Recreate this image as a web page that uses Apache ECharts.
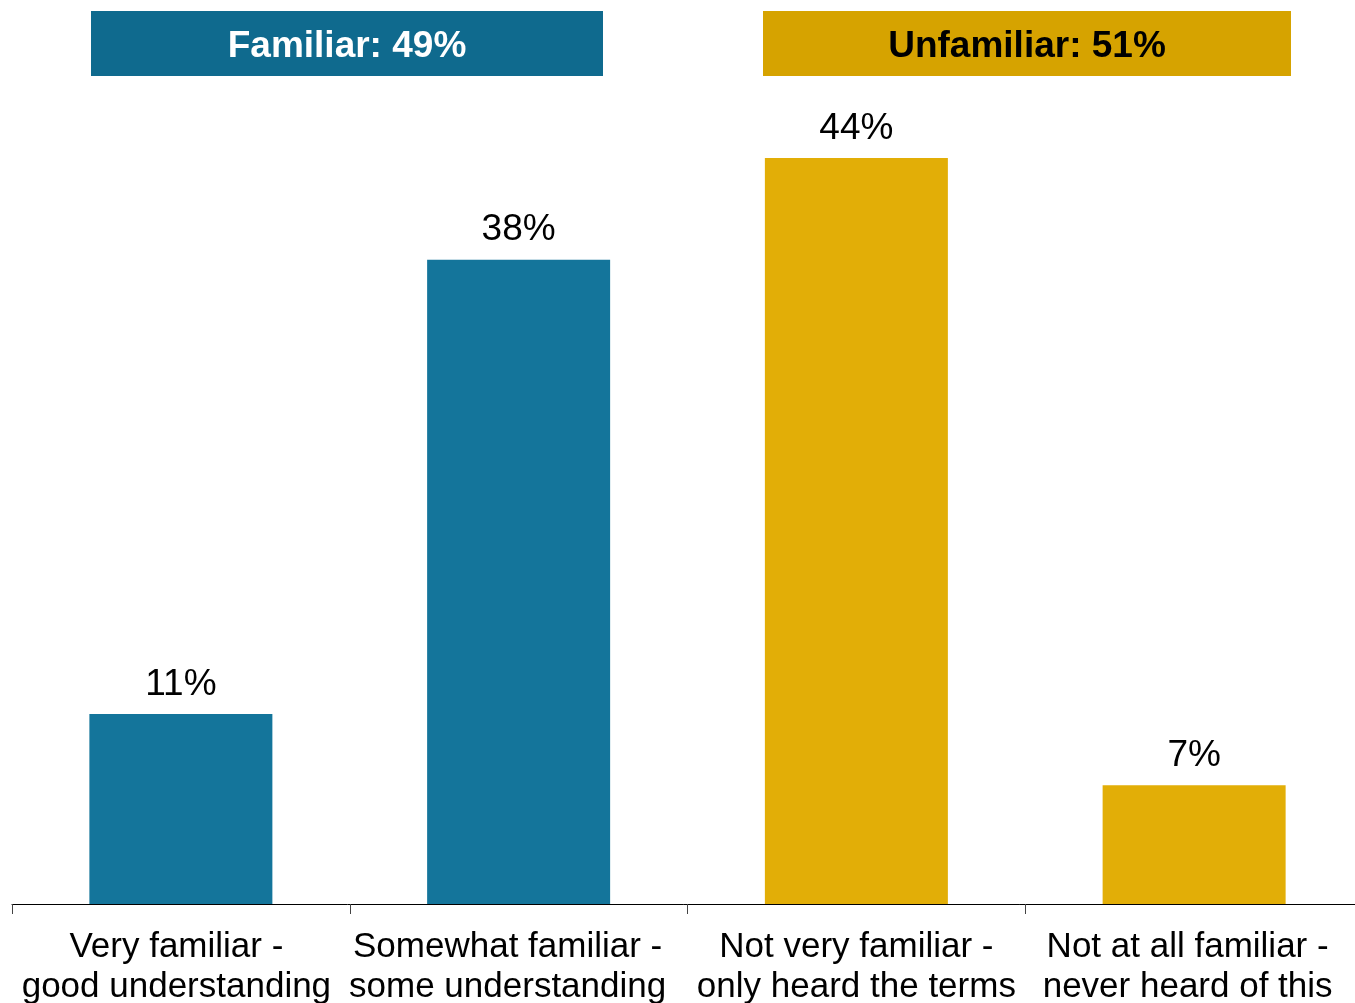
<!DOCTYPE html>
<html>
<head>
<meta charset="utf-8">
<script src="https://cdn.jsdelivr.net/npm/echarts@6/dist/echarts.min.js"></script>
<style>
html,body{margin:0;padding:0;background:#fff;overflow:hidden;}
#chart{width:1355px;height:1003px;}
</style>
</head>
<body>
<div id="chart"></div>
<script>
const categories = [
  "Very familiar -\ngood understanding",
  "Somewhat familiar -\nsome understanding",
  "Not very familiar -\nonly heard the terms",
  "Not at all familiar -\nnever heard of this"
];
const values = [11.2, 38, 44, 7];
const barColors = ["#14759b", "#14759b", "#e2ae07", "#e2ae07"];
const groupLabels = ["Familiar: 49%", "Unfamiliar: 51%"];
const labelPadRight = [9, 22, 0, 13];

const chart = echarts.init(document.getElementById('chart'), null, {renderer: 'canvas'});
const FONT = '"Liberation Sans", Arial, sans-serif';
chart.setOption({
  animation: false,
  backgroundColor: '#ffffff',
  grid: {left: 12, width: 1351, top: 158, height: 746, containLabel: false, outerBoundsMode: 'none'},
  xAxis: {
    type: 'category',
    data: categories.map((c, i) => ({value: c, textStyle: {padding: [0, labelPadRight[i], 0, 0]}})),
    axisLine: {show: true, lineStyle: {color: '#000', width: 1}},
    axisTick: {show: true, length: 10, lineStyle: {color: '#444', width: 1}},
    axisLabel: {
      interval: 0, margin: 23,
      fontFamily: FONT, fontSize: 35, lineHeight: 40, color: '#000'
    }
  },
  yAxis: {
    type: 'value', min: 0, max: 44, show: false,
    splitLine: {show: false}
  },
  series: [{
    type: 'bar',
    barWidth: 183,
    data: values.map((v, i) => ({value: v, itemStyle: {color: barColors[i]}})),
    label: {
      show: true, position: 'top', distance: 11,
      fontFamily: FONT, fontSize: 37, color: '#000',
      formatter: p => Math.round(p.value) + '%'
    }
  }],
  graphic: [
    {type: 'rect', shape: {x: 91, y: 11, width: 512, height: 65}, style: {fill: '#0f6a8e'}},
    {type: 'text', x: 347, y: 47, style: {text: groupLabels[0], fill: '#fff', font: 'bold 37px ' + FONT, textAlign: 'center', textVerticalAlign: 'middle'}},
    {type: 'rect', shape: {x: 763, y: 11, width: 528, height: 65}, style: {fill: '#d6a300'}},
    {type: 'text', x: 1027, y: 47, style: {text: groupLabels[1], fill: '#000', font: 'bold 37px ' + FONT, textAlign: 'center', textVerticalAlign: 'middle'}}
  ]
});
</script>
</body>
</html>
